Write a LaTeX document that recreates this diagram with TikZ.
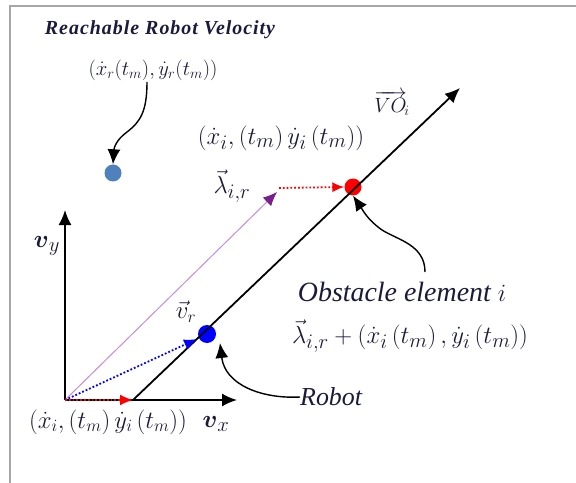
\documentclass[tikz,border=0pt]{standalone}
\usepackage{amsmath}
\usepackage{fontspec}
\setmainfont{Liberation Serif}
\usetikzlibrary{arrows.meta}
\definecolor{dotblue}{HTML}{4F81BD}
\definecolor{violetline}{HTML}{C78BD8}
\definecolor{violethead}{HTML}{7A1E8E}
\definecolor{textnavy}{HTML}{1A1A3A}
\begin{document}
\begin{tikzpicture}[x=1bp,y=-1bp,
  axis/.style={line width=1.8bp,-{Latex[length=15bp,width=13bp]}},
  curv/.style={line width=1.4bp,-{Latex[length=15bp,width=13bp]}},
  dotarrow/.style={line width=1.8bp,dotted},
  itlbl/.style={font=\itshape\fontsize{28}{30}\selectfont,text=textnavy,inner sep=0pt},
  mlbl/.style={text=textnavy,inner sep=0pt},
  dotnode/.style={circle,inner sep=0pt,minimum size=#1}]
\useasboundingbox (0,0) rectangle (576,483);
% frame
\draw[gray!70,line width=2bp] (10,483) -- (10,6) -- (576,6);
% coordinates
\coordinate (O) at (65,400);
\coordinate (vyT) at (65,210);
\coordinate (vxT) at (237,400);
\coordinate (VOs) at (133,400);
\coordinate (VOe) at (460,88);
\coordinate (lam) at (277,192);
\coordinate (vrT) at (197,339);
% dots
\node[dotnode=17bp,fill=dotblue] (reach) at (113,173) {};
\node[dotnode=18bp,fill=blue] (rob) at (207,334) {};
\node[dotnode=17bp,fill=red] (obs) at (353,187) {};
% axes
\draw[axis] (O) -- (vyT);
\draw[axis] (O) -- (vxT);
\draw[axis] (VOs) -- (VOe);
% vectors
\draw[violetline,line width=1bp,-{Latex[length=14bp,width=12bp,color=violethead]}] (O) -- (lam);
\draw[dotarrow,blue,-{Latex[length=13bp,width=11bp]}] (O) -- (vrT);
\draw[dotarrow,red,-{Latex[length=13bp,width=11bp]}] (O) -- (VOs);
\draw[dotarrow,red,-{Latex[length=12bp,width=10bp]}] (279,188) -- (obs.west);
% labels
\node[font=\bfseries\itshape\fontsize{20}{22}\selectfont\addfontfeature{LetterSpace=5},text=textnavy,inner sep=0pt] (title) at (160,30) {Reachable Robot Velocity};
\node[mlbl,font=\fontsize{21}{24}\selectfont] (rv) at (153,70) {$(\dot{x}_r(t_m),\dot{y}_r(t_m))$};
\node[font=\fontsize{22}{24}\selectfont,text=textnavy,inner sep=0pt] (vo) at (392,103) {$\overrightarrow{VO}_{\!i}$};
\node[mlbl,font=\fontsize{28}{30}\selectfont] (iv) at (281,138) {$\left(\dot{x}_{i},\left(t_{m}\right)\dot{y}_{i}\left(t_{m}\right)\right)$};
\node[font=\fontsize{28}{30}\selectfont,text=textnavy,inner sep=0pt] (lamlbl) at (232,186) {$\vec{\lambda}_{i,r}$};
\node[font=\fontsize{28}{30}\selectfont,text=textnavy,inner sep=0pt] (vy) at (47,246) {$\boldsymbol{v}_{y}$};
\node[font=\fontsize{28}{30}\selectfont,text=textnavy,inner sep=0pt] (vx) at (216,424) {$\boldsymbol{v}_{x}$};
\node[font=\fontsize{27}{30}\selectfont,text=textnavy,inner sep=0pt] (vr) at (186,312) {$\vec{v}_{r}$};
\node[mlbl,font=\fontsize{25}{28}\selectfont] (iv2) at (108,422) {$\left(\dot{x}_{i},\left(t_{m}\right)\dot{y}_{i}\left(t_{m}\right)\right)$};
\node[itlbl,font=\itshape\fontsize{26}{28}\selectfont,anchor=west] (robl) at (300,397) {Robot};
\node[itlbl] (obsl) at (402,292) {Obstacle element $i$};
\node[mlbl,font=\fontsize{28}{30}\selectfont] (obsf) at (410,336) {$\vec{\lambda}_{i,r}+\left(\dot{x}_i\left(t_m\right),\dot{y}_i\left(t_m\right)\right)$};
% curved pointers
\draw[curv] (147,82) .. controls (147,112) and (140,122) .. (127,132) .. controls (116,140) and (114,148) .. (reach.north);
\draw[curv] (robl.west) .. controls (262,399) and (225,385) .. (220,343);
\draw[curv] (425,272) .. controls (425,245) and (398,240) .. (382,230) .. controls (368,220) and (364,212) .. (obs.south);
\end{tikzpicture}
\end{document}
